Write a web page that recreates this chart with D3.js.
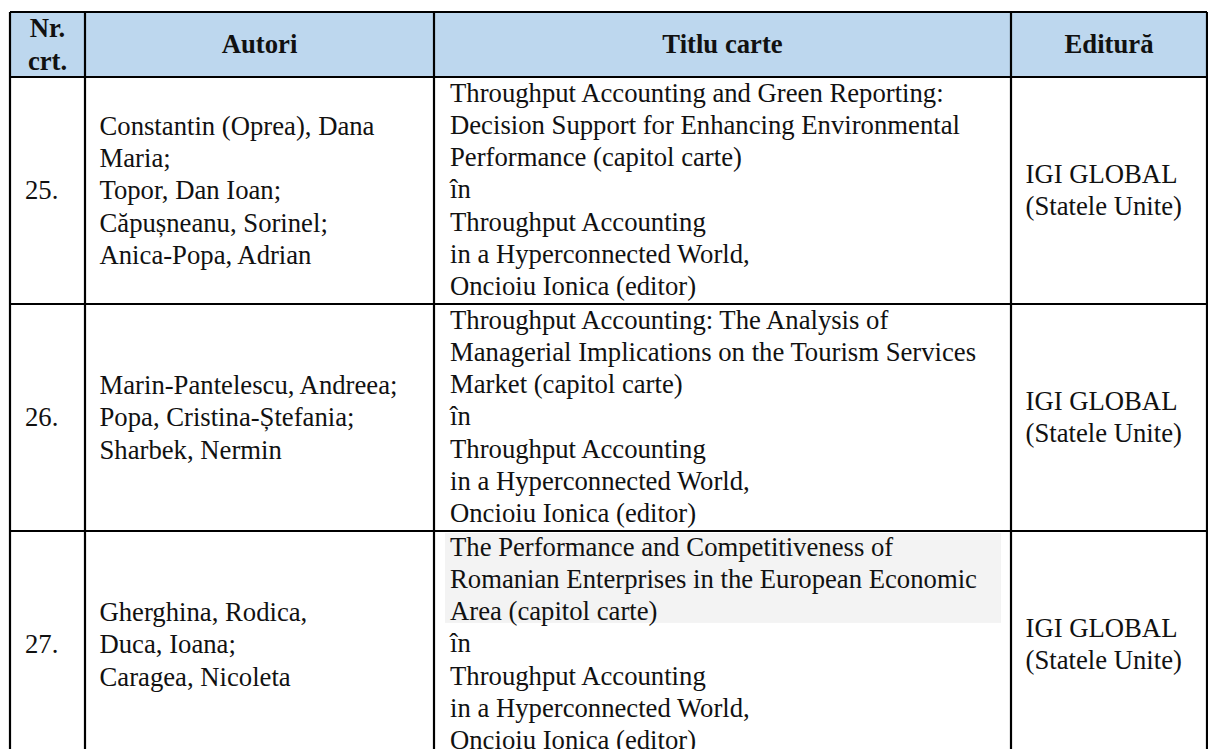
<!DOCTYPE html>
<html>
<head>
<meta charset="utf-8">
<script src="https://cdn.jsdelivr.net/npm/d3@7"></script>
<style>
  html, body { margin: 0; padding: 0; background: #ffffff; }
  svg { display: block; }
  text { font-family: "Liberation Serif", "Times New Roman", serif; fill: #111; }
</style>
</head>
<body>
<svg id="chart" width="1208" height="749"></svg>
<script>
// ---- data ----
const headers = [["Nr.", "crt."], ["Autori"], ["Titlu carte"], ["Editură"]];
const rowNumbers = ["25.", "26.", "27."];
const authors = [
  ["Constantin (Oprea), Dana", "Maria;", "Topor, Dan Ioan;", "Căpușneanu, Sorinel;", "Anica-Popa, Adrian"],
  ["Marin-Pantelescu, Andreea;", "Popa, Cristina-Ștefania;", "Sharbek, Nermin"],
  ["Gherghina, Rodica,", "Duca, Ioana;", "Caragea, Nicoleta"]
];
const titles = [
  ["Throughput Accounting and Green Reporting:", "Decision Support for Enhancing Environmental", "Performance (capitol carte)", "în", "Throughput Accounting", "in a Hyperconnected World,", "Oncioiu Ionica (editor)"],
  ["Throughput Accounting: The Analysis of", "Managerial Implications on the Tourism Services", "Market (capitol carte)", "în", "Throughput Accounting", "in a Hyperconnected World,", "Oncioiu Ionica (editor)"],
  ["The Performance and Competitiveness of", "Romanian Enterprises in the European Economic", "Area (capitol carte)", "în", "Throughput Accounting", "in a Hyperconnected World,", "Oncioiu Ionica (editor)"]
];
const highlightedLines = [0, 0, 3]; // number of leading title lines shaded per row
const publishers = [
  ["IGI GLOBAL", "(Statele Unite)"],
  ["IGI GLOBAL", "(Statele Unite)"],
  ["IGI GLOBAL", "(Statele Unite)"]
];

// ---- layout ----
const W = 1208, H = 749;
const colEdges = [10, 85, 434, 1011, 1207];
const tableTop = 12, headerBottom = 77, rowH = 227;
const fs = 26.7, lh = 32.3, pad = 14.5;

const svg = d3.select("#chart");
svg.append("rect").attr("width", W).attr("height", H).attr("fill", "#fff");

const y = d3.scaleBand().domain(rowNumbers).range([headerBottom, headerBottom + rowH * rowNumbers.length]).padding(0);
const tableBottom = headerBottom + rowH * rowNumbers.length;

// header background
svg.append("rect")
  .attr("x", colEdges[0]).attr("y", tableTop)
  .attr("width", colEdges[4] - colEdges[0]).attr("height", headerBottom - tableTop)
  .attr("fill", "#bdd7ee");

// shaded lines in titles
rowNumbers.forEach((r, i) => {
  if (highlightedLines[i] > 0) {
    svg.append("rect")
      .attr("x", colEdges[2] + 11).attr("y", y(r) + 2)
      .attr("width", colEdges[3] - colEdges[2] - 21)
      .attr("height", highlightedLines[i] * lh - 7)
      .attr("fill", "#f3f3f3");
  }
});

// header text
headers.forEach((lines, c) => {
  const cx = (colEdges[c] + colEdges[c + 1]) / 2;
  const cy = (tableTop + headerBottom) / 2;
  const hlh = 33;
  lines.forEach((t, k) => {
    svg.append("text")
      .attr("x", cx)
      .attr("y", cy + (k - (lines.length - 1) / 2) * hlh + 0.33 * fs)
      .attr("text-anchor", "middle")
      .attr("font-weight", "bold")
      .attr("font-size", fs)
      .text(t);
  });
});

function centeredLines(lines, x, top, height) {
  const cy = top + height / 2;
  lines.forEach((t, k) => {
    svg.append("text")
      .attr("x", x)
      .attr("y", cy + (k - (lines.length - 1) / 2) * lh + 0.33 * fs)
      .attr("font-size", fs)
      .text(t);
  });
}

rowNumbers.forEach((r, i) => {
  const top = y(r), h = y.bandwidth();
  centeredLines([r], colEdges[0] + pad + 0.5, top, h);
  centeredLines(authors[i], colEdges[1] + pad, top, h);
  titles[i].forEach((t, k) => {
    svg.append("text")
      .attr("x", colEdges[2] + 16)
      .attr("y", top + 24.5 + k * lh)
      .attr("font-size", fs)
      .text(t);
  });
  centeredLines(publishers[i], colEdges[3] + pad, top, h);
});

// grid lines
const g = svg.append("g").attr("stroke", "#000").attr("stroke-width", 2.2);
colEdges.forEach(x => {
  g.append("line").attr("x1", x).attr("x2", x).attr("y1", tableTop).attr("y2", tableBottom);
});
[tableTop, headerBottom, ...rowNumbers.map(r => y(r) + y.bandwidth())].forEach(yy => {
  g.append("line").attr("x1", colEdges[0]).attr("x2", colEdges[4]).attr("y1", yy).attr("y2", yy);
});
</script>
</body>
</html>
